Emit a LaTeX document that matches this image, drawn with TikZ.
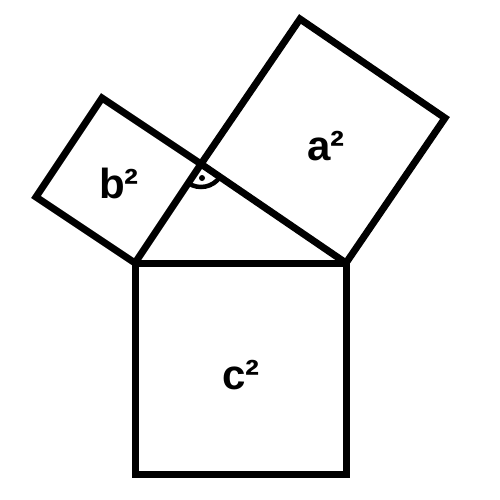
\documentclass[tikz,border=0pt]{standalone}
\usepackage{fontspec}
\setmainfont{Liberation Sans}
\begin{document}
\begin{tikzpicture}[x=1pt,y=-1pt,
  edge/.style={line width=7pt,line join=miter,draw=black},
  lbl/.style={font=\fontsize{42}{46}\selectfont\bfseries,inner sep=0pt}]
\useasboundingbox (0,0) rectangle (500,500);
\coordinate (A) at (135,263);
\coordinate (B) at (346,263);
\coordinate (C) at (201,164);
\coordinate (A2) at (300,19);
\coordinate (B2) at (445,118);
\coordinate (Bb1) at (36,197);
\coordinate (Bb2) at (102,98);
\coordinate (Cc1) at (135,474);
\coordinate (Cc2) at (346,474);
% squares
\draw[edge] (A) -- (B) -- (Cc2) -- (Cc1) -- cycle;
\draw[edge] (C) -- (A2) -- (B2) -- (B) -- cycle;
\draw[edge] (A) -- (Bb1) -- (Bb2) -- (C) -- cycle;
% right angle mark
\draw[line width=4.5pt] ([shift={(34.3:23)}]C) arc[start angle=34.3,end angle=123.6,radius=23];
\fill (202,178) circle (3);
% labels
\node[lbl] (la) at (326,146) {a²};
\node[lbl] (lb) at (119,183) {b²};
\node[lbl] (lc) at (241,375) {c²};
\end{tikzpicture}
\end{document}
